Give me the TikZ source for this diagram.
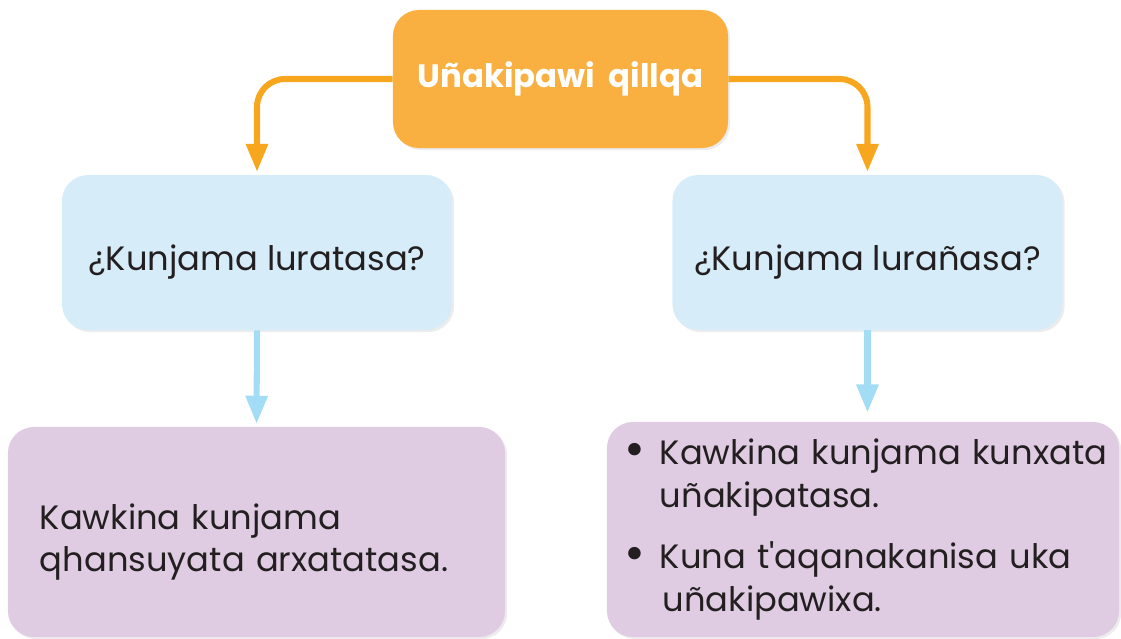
\documentclass[tikz,border=0pt]{standalone}
\usepackage{fontspec}
\setmainfont{Poppins}
\usepackage{tikz}
\usetikzlibrary{shadows}
\usetikzlibrary{positioning}
\usetikzlibrary{arrows.meta}
\usetikzlibrary{calc}

\definecolor{titleorange}{RGB}{249,176,65}
\definecolor{linkorange}{RGB}{247,166,30}
\definecolor{askblue}{RGB}{214,236,249}
\definecolor{linkblue}{RGB}{163,220,245}
\definecolor{notepurple}{RGB}{223,204,226}
\definecolor{inkdark}{RGB}{35,31,32}

\newcommand{\notedot}{\raisebox{-1.5pt}{\scalebox{1.5}{\textbullet}}}

\tikzset{
  boxbase/.style={rounded corners=0.65cm, inner sep=0pt,
    drop shadow={shadow xshift=1.5pt, shadow yshift=-1.5pt, opacity=0.15}},
  titlebox/.style={boxbase, fill=titleorange, text=white,
    font=\fontsize{23}{28}\selectfont\bfseries,
    minimum width=8.375cm, minimum height=3.45cm},
  askbox/.style={boxbase, fill=askblue, text=inkdark,
    font=\fontsize{24}{30}\selectfont, text height=31pt, text depth=6pt,
    minimum width=9.75cm, minimum height=3.875cm},
  notebox/.style={boxbase, fill=notepurple, text=inkdark,
    font=\fontsize{24}{30}\selectfont, align=left},
  orangelink/.style={draw=linkorange, line width=4.3pt, rounded corners=0.7cm,
    -{Triangle[length=20pt,width=15pt]}, shorten >=2pt},
  bluelink/.style={draw=linkblue, line width=4.3pt,
    -{Triangle[length=20pt,width=15pt]}, shorten >=2pt}
}

\begin{document}
\begin{tikzpicture}[x=0.025cm, y=-0.025cm]
\useasboundingbox (0,0) rectangle (1121,639);

%title
\node[titlebox] (title) at (560.5,79) {Uñakipawi\ \ qillqa};

%questions
\node[askbox] (askleft) at (257,252.5) {¿Kunjama luratasa?};
\node[askbox] (askright) at (867.5,252.5) {¿Kunjama lurañasa?};

%notes
\node[notebox, text width=10.825cm, inner xsep=0.8cm,
  minimum height=5.25cm] (noteleft) at (256.5,532)
  {\rule{0pt}{33pt}Kawkina kunjama\\ qhansuyata arxatatasa.};
\node[notebox, text width=11.9cm, inner xsep=0.45cm,
  minimum height=5.375cm] (noteright) at (863,529.5)
  {\begin{tabular}{@{}l@{\hspace{10pt}}l@{}}
    \notedot & Kawkina kunjama kunxata\\
             & uñakipatasa.\\[14pt]
    \notedot & Kuna t\textquotesingle aqanakanisa uka\\
             & \hspace{2pt}uñakipawixa.
  \end{tabular}};

%links
\draw[orangelink] (title.west) -| (askleft.north);
\draw[orangelink] (title.east) -| (askright.north);
\draw[bluelink] (askleft.south) -- (noteleft.north);
\draw[bluelink, shorten >=6.5pt] (askright.south) -- (askright.south |- noteright.north);
\end{tikzpicture}
\end{document}
